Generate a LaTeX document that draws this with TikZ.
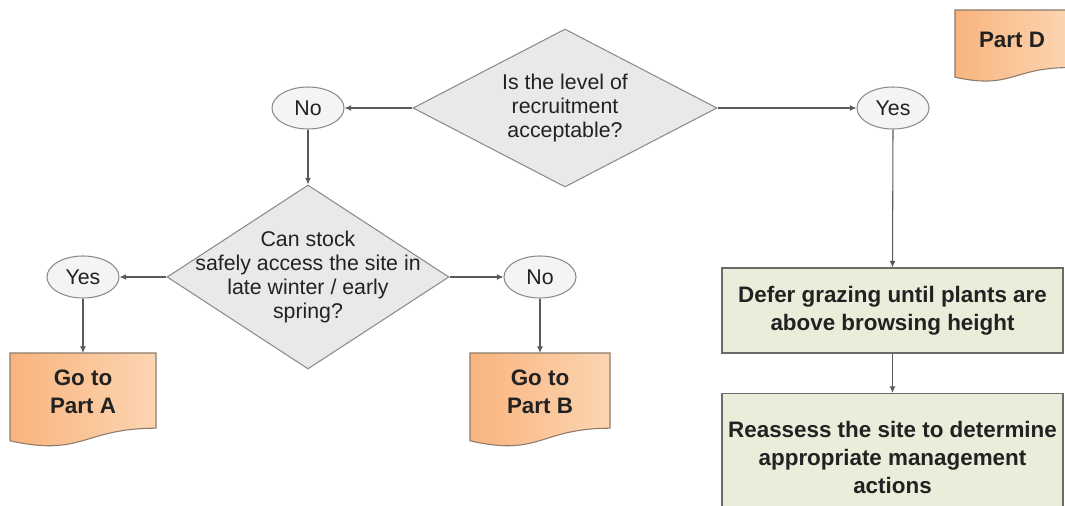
\documentclass[tikz,border=0pt]{standalone}
\usepackage{fontspec}
\setmainfont{Liberation Sans}
\usetikzlibrary{shapes.geometric,arrows.meta}
\definecolor{txt}{HTML}{222222}
\definecolor{dfill}{HTML}{E9E9E9}
\definecolor{dborder}{HTML}{8C8C8C}
\definecolor{efill}{HTML}{F4F4F4}
\definecolor{eborder}{HTML}{8C8C8C}
\definecolor{bfill}{HTML}{EBECDA}
\definecolor{bborder}{HTML}{6B6B6B}
\definecolor{orL}{HTML}{F9B47E}
\definecolor{orR}{HTML}{FCD5B2}
\definecolor{docborder}{HTML}{8C7B6B}
\definecolor{lgray}{HTML}{5A5A5A}
\newcommand\docshape[4]{%
  \path[docfill] (#1,#2) -- (#3,#2) -- (#3,{#2+0.80*(#4-#2)})
    .. controls ({(#1+#3)/2},{#2+0.80*(#4-#2)}) and ({(#1+#3)/2},{#2+1.107*(#4-#2)}) ..
    (#1,{#2+0.934*(#4-#2)}) -- cycle;}
\begin{document}
\begin{tikzpicture}[x=0.75pt,y=-0.75pt,
  reg/.style={font=\fontsize{16}{18}\selectfont, text=txt},
  bld/.style={font=\bfseries\fontsize{16.8}{21}\selectfont, text=txt},
  dia/.style={diamond, draw=dborder, fill=dfill, line width=0.8pt, inner sep=0pt},
  oval/.style={ellipse, draw=eborder, fill=efill, line width=0.8pt, inner sep=0pt,
    minimum width=54pt, minimum height=31.5pt, reg},
  docbox/.style={rectangle, inner sep=0pt, align=center, bld, anchor=north},
  docfill/.style={draw=docborder, line width=0.8pt, left color=orL, right color=orR},
  procbox/.style={rectangle, draw=bborder, fill=bfill, line width=0.8pt, align=center,
    bld, minimum width=255.75pt, inner sep=0pt},
  conn/.style={draw=lgray, line width=0.8pt, -{Latex[length=5pt,width=4.5pt]}}]
\useasboundingbox (0,0) rectangle (1065,506);
\fill[white] (0,0) rectangle (1065,506);
\clip (0,0) rectangle (1065,506);

% decisions
\node[dia, minimum width=228pt, minimum height=118.5pt,
  label={[reg,align=center]center:Is the level of\\recruitment\\acceptable?}] (q1) at (565,108) {};
\node[dia, minimum width=211.5pt, minimum height=138pt,
  label={[reg,align=center]center:Can stock\\safely access the site in\\late winter / early\\spring?}] (q2) at (308,277) {};

% answers
\node[oval] (no1) at (308,108) {No};
\node[oval] (yes1) at (893,108) {Yes};
\node[oval] (yes2) at (83,277) {Yes};
\node[oval] (no2) at (540,277) {No};

% documents
\docshape{10}{353}{156}{447}
\node[docbox, minimum width=109.5pt, minimum height=58.5pt] (partA) at (83,353) {Go to\\Part A};
\docshape{470}{353}{610}{447}
\node[docbox, minimum width=105pt, minimum height=58.5pt] (partB) at (540,353) {Go to\\Part B};
\docshape{955}{10}{1069}{82}
\node[docbox, minimum width=85.5pt, minimum height=45pt] (partD) at (1012,10) {Part D};

% process boxes
\node[procbox, minimum height=63.75pt] (defer) at (892.5,310.5) {Defer grazing until plants are\\above browsing height};
\node[procbox, minimum height=95.25pt] (reass) at (892.5,457) {Reassess the site to determine\\appropriate management\\actions};

% connectors
\draw[conn] (q1.west) -- (no1.east);
\draw[conn] (q1.east) -- (yes1.west);
\draw[conn] (no1.south) -- (q2.north);
\draw[conn] (q2.west) -- (yes2.east);
\draw[conn] (q2.east) -- (no2.west);
\draw[conn] (yes2.south) -- (partA.north);
\draw[conn] (no2.south) -- (partB.north);
\draw[conn] (yes1.south) -- (defer.north);
\draw[conn] (defer.south) -- (reass.north);
\end{tikzpicture}
\end{document}
